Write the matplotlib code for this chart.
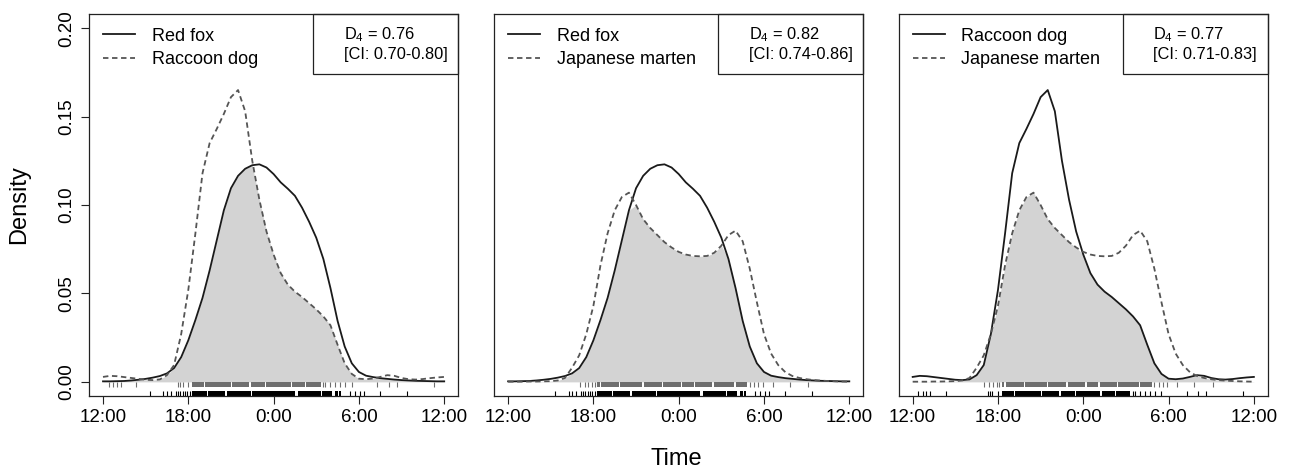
import numpy as np
import matplotlib
matplotlib.use("Agg")
import matplotlib.pyplot as plt
from matplotlib.lines import Line2D
from matplotlib.patches import Rectangle

plt.rcParams['font.family'] = 'Liberation Sans'
plt.rcParams['mathtext.fontset'] = 'custom'
plt.rcParams['mathtext.rm'] = 'Liberation Sans'
plt.rcParams['mathtext.it'] = 'Liberation Sans:italic'

# time of day in hours, 12:00 -> 12:00 next day (24 = midnight)
hours = np.linspace(12, 36, 49)

# kernel density curves (half-hour steps)
red_fox = [0.0003, 0.0003, 0.0004, 0.0005, 0.0008, 0.0012, 0.0017, 0.0024, 0.0033, 0.0048,
           0.0078, 0.0140, 0.0235, 0.0350, 0.0475, 0.0630, 0.0800, 0.0970, 0.1095, 0.1165,
           0.1205, 0.1225, 0.1230, 0.1212, 0.1175, 0.1128, 0.1092, 0.1052, 0.0985, 0.0905,
           0.0815, 0.0695, 0.0530, 0.0345, 0.0200, 0.0105, 0.0056, 0.0035, 0.0027, 0.0021,
           0.0017, 0.0013, 0.0010, 0.0008, 0.0006, 0.0005, 0.0004, 0.0003, 0.0003]
raccoon_dog = [0.0028, 0.0034, 0.0032, 0.0027, 0.0022, 0.0017, 0.0012, 0.0010, 0.0014, 0.0038,
               0.0095, 0.0270, 0.0520, 0.0840, 0.1180, 0.1350, 0.1430, 0.1515, 0.1610, 0.1650,
               0.1530, 0.1250, 0.1030, 0.0850, 0.0720, 0.0615, 0.0550, 0.0510, 0.0480, 0.0445,
               0.0410, 0.0370, 0.0320, 0.0210, 0.0105, 0.0045, 0.0018, 0.0015, 0.0019, 0.0028,
               0.0038, 0.0034, 0.0022, 0.0015, 0.0013, 0.0016, 0.0021, 0.0025, 0.0028]
marten = [0.0001, 0.0001, 0.0001, 0.0002, 0.0002, 0.0003, 0.0004, 0.0008, 0.0022, 0.0080,
          0.0150, 0.0270, 0.0430, 0.0660, 0.0840, 0.0970, 0.1045, 0.1070, 0.1000, 0.0920,
          0.0870, 0.0830, 0.0790, 0.0760, 0.0735, 0.0720, 0.0712, 0.0710, 0.0712, 0.0730,
          0.0770, 0.0830, 0.0855, 0.0795, 0.0640, 0.0450, 0.0270, 0.0160, 0.0095, 0.0055,
          0.0033, 0.0022, 0.0015, 0.0010, 0.0007, 0.0005, 0.0003, 0.0002, 0.0001]

# detection times (rug): dense runs as blocks, isolated records as single ticks
fox_blocks = [(18.25, 19.3), (19.4, 20.6), (20.7, 22.4), (22.5, 25.5), (25.7, 27.3),
              (27.4, 28.1), (28.3, 28.5), (28.6, 28.75)]
fox_ticks = [15.3, 16.25, 16.5, 16.75, 17.1, 17.3, 17.4, 17.6, 17.75, 17.9, 18.1,
             29.4, 29.75, 30.1, 30.35, 31.5, 33.4]
racc_blocks = [(18.25, 19.1), (19.2, 21.0), (21.1, 22.3), (22.4, 23.4), (23.5, 25.2),
               (25.3, 26.2), (26.3, 27.3)]
racc_ticks = [12.4, 12.7, 12.95, 13.25, 14.35, 17.3, 17.45, 17.6, 18.0,
              27.5, 27.65, 28.0, 28.35, 28.7, 29.05, 29.5, 31.3, 32.1, 32.65, 35.25]
marten_blocks = [(18.25, 18.45), (18.55, 19.8), (19.9, 21.45), (21.55, 22.8), (22.9, 24.15),
                 (24.25, 25.05), (25.15, 26.35), (26.45, 27.9), (28.0, 28.8)]
marten_ticks = [17.05, 17.4, 17.65, 17.9, 18.1, 29.0, 29.3, 29.6, 29.9, 30.6, 31.8, 33.1]

overlap_est = ["0.76", "0.82", "0.77"]
overlap_ci = ["0.70-0.80", "0.74-0.86", "0.71-0.83"]

xtick_pos = [12, 18, 24, 30, 36]
xtick_lab = ["12:00", "18:00", "0:00", "6:00", "12:00"]
ytick_pos = [0.0, 0.05, 0.10, 0.15, 0.20]

panels = [
    ("Red fox", red_fox, fox_blocks, fox_ticks, "Raccoon dog", raccoon_dog, racc_blocks, racc_ticks),
    ("Red fox", red_fox, fox_blocks, fox_ticks, "Japanese marten", marten, marten_blocks, marten_ticks),
    ("Raccoon dog", raccoon_dog, racc_blocks, racc_ticks, "Japanese marten", marten, marten_blocks, marten_ticks),
]

solid_col = "#1a1a1a"
dash_col = "#555555"
fill_col = "#d3d3d3"

fig = plt.figure(figsize=(12.93, 4.70), dpi=100)
lefts = [0.0691, 0.3824, 0.6953]

def draw_rug(ax, blocks, ticks, y0, y1, col):
    ax.broken_barh([(a, b - a) for a, b in blocks], (y0, y1 - y0), facecolors=col, lw=0)
    ax.vlines(ticks, y0, y1, colors=col, lw=0.8)

for i, (na, da, ba, ta, nb, db, bb, tb) in enumerate(panels):
    ax = fig.add_axes([lefts[i], 0.1574, 0.2850, 0.8128])
    da = np.array(da)
    db = np.array(db)
    ax.fill_between(hours, 0, np.minimum(da, db), color=fill_col, lw=0)
    ax.plot(hours, da, color=solid_col, lw=1.3, solid_joinstyle="round")
    ax.plot(hours, db, color=dash_col, lw=1.3, dashes=(3, 2))
    # rugs: second species (grey) on top row, first species (black) below
    draw_rug(ax, bb, tb, -0.0027, 0.0, "#6e6e6e")
    draw_rug(ax, ba, ta, -0.008, -0.0049, "black")

    ax.set_xlim(12 - 0.96, 36 + 0.96)
    ax.set_ylim(-0.008, 0.208)
    ax.set_xticks(xtick_pos)
    ax.set_xticklabels(xtick_lab)
    ax.tick_params(axis='x', length=6, width=0.8, pad=3.5, labelsize=13.5, color="#222222")
    if i == 0:
        ax.set_yticks(ytick_pos)
        ax.set_yticklabels(["%.2f" % v for v in ytick_pos], rotation=90, va="center")
        ax.tick_params(axis='y', length=6, width=0.8, pad=4, labelsize=13.5, color="#222222")
    else:
        ax.set_yticks([])
    for s in ax.spines.values():
        s.set_linewidth(0.9)
        s.set_color("#222222")

    handles = [Line2D([], [], color=solid_col, lw=1.3),
               Line2D([], [], color=dash_col, lw=1.3, dashes=(3, 2))]
    ax.legend(handles, [na, nb], loc="upper left", frameon=False, fontsize=13,
              handlelength=1.8, handletextpad=0.9, labelspacing=0.38, borderaxespad=0.35)

    ax.add_patch(Rectangle((0.607, 0.843), 0.393, 0.157, transform=ax.transAxes,
                           fill=False, ec="#222222", lw=0.9, clip_on=False))
    ax.text(0.69, 0.945, "D$_4$ = " + overlap_est[i], transform=ax.transAxes,
            fontsize=11.8, va="center")
    ax.text(0.69, 0.893, "[CI: " + overlap_ci[i] + "]", transform=ax.transAxes,
            fontsize=11.8, va="center")

fig.text(19 / 1293, 0.564, "Density", rotation=90, ha="center", va="center", fontsize=17)
fig.text(0.5228, 0.0106, "Time", ha="center", va="baseline", fontsize=17)

fig.savefig("out.png", dpi=100)
